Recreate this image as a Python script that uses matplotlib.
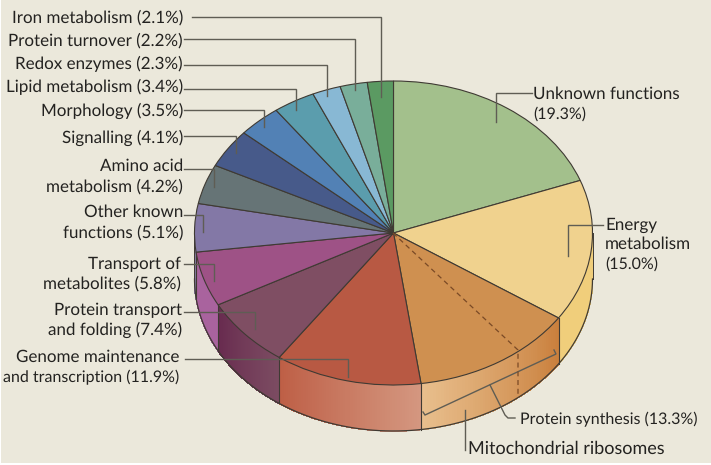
import numpy as np
import matplotlib
matplotlib.use('Agg')
import matplotlib.pyplot as plt
from matplotlib.colors import to_rgb
from matplotlib.patches import Rectangle

plt.rcParams['font.family'] = ['Lato', 'DejaVu Sans']
plt.rcParams['text.hinting'] = 'no_hinting'
plt.rcParams['text.hinting_factor'] = 1

# slices clockwise from twelve o'clock
names = ['Unknown functions', 'Energy metabolism', 'Protein synthesis',
         'Genome maintenance and transcription', 'Protein transport and folding',
         'Transport of metabolites', 'Other known functions', 'Amino acid metabolism',
         'Signalling', 'Morphology', 'Lipid metabolism', 'Redox enzymes',
         'Protein turnover', 'Iron metabolism']
values = [19.3, 15.0, 13.3, 11.9, 7.4, 5.8, 5.1, 4.2, 4.1, 3.5, 3.4, 2.3, 2.2, 2.1]
top_colors = ['#A3C08C', '#F0D28E', '#CF9050', '#B85943', '#7F4E63', '#9E5286', '#8378A6',
              '#667476', '#475A8A', '#5281B5', '#5B9DAD', '#88B8D4', '#79AE9A', '#5B9A62']
# side wall colours, start and end of each slice going clockwise
side_colors = [None, ('#F0CE7B', '#F0CE7B'), ('#C97F3C', '#E8BE8C'), ('#D49780', '#BE5F46'),
               ('#7C4C62', '#682B4F'), ('#A9639E', '#A9639E'), ('#85799F', '#85799F')]

# label lines, each with its anchor (right edge on the left, left edge on the right) and baseline
left_lines = ['Iron metabolism (2.1%)', 'Protein turnover (2.2%)', 'Redox enzymes (2.3%)',
              'Lipid metabolism (3.4%)', 'Morphology (3.5%)', 'Signalling (4.1%)',
              'Amino acid', 'metabolism (4.2%)', 'Other known', 'functions (5.1%)',
              'Transport of', 'metabolites (5.8%)', 'Protein transport', 'and folding (7.4%)',
              'Genome maintenance', 'and transcription (11.9%)']
left_x = [183, 183, 183, 183, 183, 183, 183, 183, 183, 183, 181, 181, 182, 182, 179, 179]
left_y = [22.7, 46, 69, 92, 116, 143, 171, 192, 217, 238, 269, 289, 315, 335, 362, 382]
left_size = [12.0, 12.0, 12.0, 12.2, 12.1, 12.0, 12.5, 12.1, 12.5, 12.0, 12.3, 12.2, 12.5, 12.0, 12.5, 11.6]

right_lines = ['Unknown functions', '(19.3%)', 'Energy', 'metabolism', '(15.0%)',
               'Protein synthesis (13.3%)', 'Mitochondrial ribosomes']
right_x = [533, 533, 605, 605, 605, 520, 468]
right_y = [99, 119, 230, 249, 269, 424, 454]
right_size = [12.5, 11.4, 12.0, 12.5, 11.4, 11.6, 13.0]

# leader lines in pixels of the picture
leaders = [[(192, 17.5), (381, 17.5), (381, 97)], [(184, 39), (355, 39), (355, 90)],
           [(184, 65), (327, 65), (327, 96)], [(184, 89), (296, 89), (296, 110)],
           [(184, 110), (264, 110), (264, 127)], [(184, 136), (236, 136), (236, 153)],
           [(184, 169), (214, 169), (214, 187)], [(184, 215), (203, 215), (203, 232)],
           [(184, 264), (214, 264), (214, 281)], [(184, 312), (255, 312), (255, 329)],
           [(185, 359), (348, 359), (348, 377)], [(532, 93), (496, 93), (496, 122)],
           [(603, 225), (568, 225), (568, 256)],
           [(423, 412), (425, 415), (556, 354), (554, 350)],
           [(490, 385), (505, 415), (508, 418), (515, 418)], [(465, 410), (465, 450)]]
dashes = [(393, 233), (518, 350), (518, 398)]

W, H = 711, 465
cx, cy, rx, ry, depth = 393.5, 233, 199, 152, 46
bg = '#EBE8DB'
line_col = '#3F3A33'
text_col = '#232220'

fig = plt.figure(figsize=(W / 100, H / 100), dpi=100, facecolor='white')
fig.add_artist(Rectangle((1.5 / W, 2 / H), 1, 1, transform=fig.transFigure, facecolor=bg,
                         edgecolor='none', zorder=-5))

# pie axes, squashed so the unit circle lands on the ellipse
ax = fig.add_axes([0, 0, 1, 1])
ax.pie(values, colors=top_colors, startangle=90, counterclock=False, radius=1,
       wedgeprops=dict(edgecolor=line_col, linewidth=0.8, zorder=5))
ax.set_aspect('auto')
ax.set_xlim(-cx / rx, (W - cx) / rx)
ax.set_ylim((cy - H) / ry, cy / ry)
ax.axis('off')

# side wall, thin strips with a colour ramp
d = depth / ry
bounds = np.cumsum([0] + values) / sum(values) * 360
for i, cols in enumerate(side_colors):
    if cols is None:
        continue
    a0 = max(bounds[i], 90)
    a1 = min(bounds[i + 1], 270)
    edges = np.radians(np.linspace(a0, a1, 61))
    c0, c1 = np.array(to_rgb(cols[0])), np.array(to_rgb(cols[1]))
    for j in range(60):
        t = np.linspace(edges[j], edges[j + 1], 4)
        xs = np.r_[np.sin(t), np.sin(t[::-1])]
        ys = np.r_[np.cos(t), np.cos(t[::-1]) - d]
        col = c0 + (c1 - c0) * j / 59
        ax.fill(xs, ys, color=col, lw=0.5, antialiased=False, zorder=1)
    if a0 > 90:
        ax.plot([np.sin(np.radians(a0))] * 2,
                [np.cos(np.radians(a0)), np.cos(np.radians(a0)) - d],
                color=line_col, lw=0.8, zorder=2)
t = np.radians(np.linspace(90, 270, 200))
ax.plot(np.sin(t), np.cos(t) - d, color=line_col, lw=0.9, zorder=2)
ax.plot([1, 1], [0, -d], color=line_col, lw=0.7, zorder=2)
ax.plot([-1, -1], [0, -d], color=line_col, lw=0.7, zorder=2)

# overlay in picture pixels for the labels and leaders
ov = fig.add_axes([0, 0, 1, 1])
ov.set_xlim(0, W)
ov.set_ylim(H, 0)
ov.axis('off')
for pts in leaders:
    ov.plot(*zip(*pts), color='#5F5D54', lw=1.0, solid_joinstyle='miter')
ov.plot(*zip(*dashes), color='#7A4A26', lw=0.9, ls=(0, (4, 3)))

for txt, x, y, s in zip(left_lines, left_x, left_y, left_size):
    ov.text(x, y, txt, ha='right', va='baseline', fontsize=s, color=text_col)
for txt, x, y, s in zip(right_lines, right_x, right_y, right_size):
    ov.text(x, y, txt, ha='left', va='baseline', fontsize=s, color=text_col)

fig.savefig('out.png', dpi=100, facecolor=fig.get_facecolor())
